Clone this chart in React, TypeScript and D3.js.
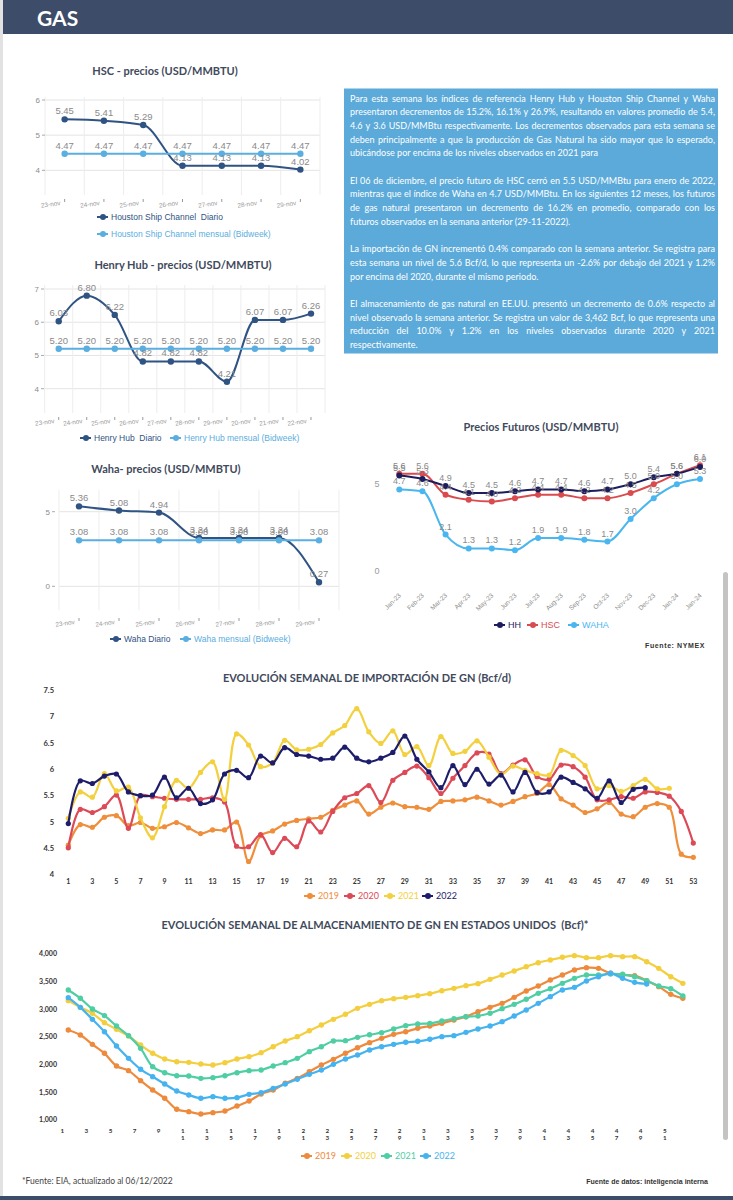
import React from 'react';
import * as d3 from 'd3';

const LATO = 'Lato, "Open Sans", sans-serif';
const SANS = '"Liberation Sans", Arial, sans-serif';
const NAVY = '#3c4c69';

// ---------- Daily price charts ----------
const hscDays = ['23-nov', '24-nov', '25-nov', '26-nov', '27-nov', '28-nov', '29-nov'];
const hscDiario = [5.45, 5.41, 5.29, 4.13, 4.13, 4.13, 4.02];
const hscMensual = [4.47, 4.47, 4.47, 4.47, 4.47, 4.47, 4.47];
const hscTicks = [4, 5, 6];

const hhDays = ['23-nov', '24-nov', '25-nov', '26-nov', '27-nov', '28-nov', '29-nov', '20-nov', '21-nov', '22-nov'];
const hhDiario = [6.03, 6.8, 6.22, 4.82, 4.82, 4.82, 4.21, 6.07, 6.07, 6.26];
const hhMensual = [5.2, 5.2, 5.2, 5.2, 5.2, 5.2, 5.2, 5.2, 5.2, 5.2];
const hhTicks = [4, 5, 6, 7];

const wahaDays = ['23-nov', '24-nov', '25-nov', '26-nov', '27-nov', '28-nov', '29-nov'];
const wahaDiario = [5.36, 5.08, 4.94, 3.24, 3.24, 3.24, 0.27];
const wahaMensual = [3.08, 3.08, 3.08, 3.08, 3.08, 3.08, 3.08];
const wahaTicks = [0, 5];

// ---------- Futures ----------
const futMonths = ['Jan-23', 'Feb-23', 'Mar-23', 'Apr-23', 'May-23', 'Jun-23', 'Jul-23', 'Aug-23', 'Sep-23', 'Oct-23', 'Nov-23', 'Dec-23', 'Jan-24', 'Jan-24'];
const futHH = [5.5, 5.3, 4.9, 4.5, 4.5, 4.6, 4.7, 4.7, 4.6, 4.7, 5.0, 5.4, 5.6, 6.0];
const futHSC = [5.6, 5.6, 4.4, 4.1, 4.0, 4.2, 4.4, 4.4, 4.2, 4.2, 4.5, 5.0, 5.6, 6.1];
const futWAHA = [4.7, 4.6, 2.1, 1.3, 1.3, 1.2, 1.9, 1.9, 1.8, 1.7, 3.0, 4.2, 5.0, 5.3];
const futTicks = [0, 5];

// ---------- Imports (Bcf/d) ----------
const imp2019 = [4.56, 4.95, 4.9, 5.09, 5.12, 4.93, 4.99, 4.88, 4.91, 4.99, 4.89, 4.78, 4.85, 4.85, 5.0, 4.25, 4.74, 4.83, 4.96, 5.03, 5.06, 5.09, 5.22, 5.32, 5.4, 5.15, 5.28, 5.36, 5.29, 5.28, 5.24, 5.39, 5.4, 5.42, 5.47, 5.4, 5.32, 5.39, 5.48, 5.54, 5.71, 5.44, 5.32, 5.18, 5.25, 5.37, 5.15, 5.1, 5.28, 5.35, 5.28, 4.39, 4.33];
const imp2020 = [4.51, 5.24, 5.18, 5.29, 5.51, 4.88, 5.5, 5.48, 5.45, 5.43, 5.43, 5.43, 5.46, 5.38, 4.54, 4.53, 4.76, 4.42, 4.69, 4.53, 5.02, 4.81, 5.2, 5.46, 5.54, 5.69, 5.37, 5.79, 5.94, 6.06, 5.84, 5.54, 5.83, 6.07, 6.31, 6.29, 5.92, 6.08, 6.18, 5.86, 5.81, 6.08, 6.05, 5.85, 5.42, 5.42, 5.48, 5.45, 5.57, 5.56, 5.49, 5.2, 4.6];
const imp2021 = [5.07, 5.57, 5.47, 5.92, 5.59, 5.66, 5.08, 4.7, 5.29, 5.79, 5.64, 5.94, 6.14, 5.43, 6.67, 6.46, 6.05, 6.12, 6.55, 6.37, 6.38, 6.47, 6.69, 6.83, 7.15, 6.71, 6.49, 6.73, 6.28, 6.43, 6.07, 6.62, 6.3, 6.34, 6.54, 6.23, 5.9, 6.06, 5.98, 5.92, 5.89, 6.36, 6.26, 6.07, 5.63, 5.69, 5.58, 5.69, 5.81, 5.63, 5.64];
const imp2022 = [4.97, 5.78, 5.73, 5.87, 5.91, 5.57, 5.5, 5.51, 5.85, 5.46, 5.64, 5.35, 5.42, 5.91, 5.98, 5.84, 6.25, 6.12, 6.41, 6.28, 6.25, 6.19, 6.21, 6.42, 6.21, 6.14, 6.21, 6.32, 6.63, 6.19, 5.95, 5.65, 6.07, 5.71, 6.0, 5.72, 5.89, 5.57, 5.94, 5.56, 5.57, 5.85, 5.75, 5.63, 5.45, 5.78, 5.37, 5.62, 5.65];
const impTicks = [4, 4.5, 5, 5.5, 6, 6.5, 7, 7.5];

// ---------- Storage (Bcf) ----------
const st2019 = [2627, 2536, 2367, 2205, 1976, 1892, 1711, 1542, 1392, 1193, 1151, 1108, 1133, 1163, 1253, 1343, 1470, 1542, 1663, 1753, 1873, 1994, 2096, 2205, 2307, 2398, 2476, 2548, 2596, 2657, 2699, 2747, 2807, 2867, 2958, 3036, 3108, 3217, 3331, 3422, 3530, 3620, 3711, 3753, 3741, 3651, 3620, 3608, 3518, 3410, 3271, 3199];
const st2020 = [3157, 3036, 2928, 2759, 2639, 2518, 2355, 2205, 2102, 2054, 2042, 2012, 1994, 2036, 2102, 2145, 2217, 2325, 2428, 2506, 2614, 2717, 2819, 2910, 3018, 3090, 3157, 3193, 3217, 3247, 3283, 3337, 3379, 3428, 3464, 3542, 3620, 3693, 3771, 3843, 3892, 3940, 3970, 3934, 3934, 3970, 3952, 3952, 3861, 3741, 3590, 3470];
const st2021 = [3349, 3199, 3006, 2886, 2699, 2524, 2295, 1964, 1855, 1801, 1795, 1753, 1765, 1801, 1855, 1892, 1904, 1976, 2036, 2114, 2235, 2325, 2428, 2434, 2494, 2540, 2578, 2644, 2705, 2735, 2747, 2789, 2831, 2867, 2880, 2928, 3012, 3090, 3181, 3289, 3373, 3470, 3560, 3620, 3620, 3639, 3633, 3590, 3518, 3422, 3373, 3241];
const st2022 = [3211, 3036, 2819, 2596, 2337, 2114, 1916, 1783, 1651, 1524, 1452, 1392, 1422, 1392, 1404, 1464, 1494, 1572, 1651, 1735, 1825, 1904, 2006, 2102, 2175, 2265, 2325, 2367, 2404, 2422, 2458, 2506, 2524, 2584, 2645, 2699, 2777, 2880, 2988, 3108, 3229, 3349, 3397, 3512, 3590, 3651, 3560, 3488, 3458];
const stTicks = [1000, 1500, 2000, 2500, 3000, 3500, 4000];

// ---------- Text ----------
const paragraphs: string[][] = [
  [
    'Para esta semana los índices de referencia Henry Hub y Houston Ship Channel y Waha',
    'presentaron decrementos de 15.2%, 16.1% y 26.9%,  resultando en valores promedio de 5.4,',
    '4.6 y 3.6 USD/MMBtu respectivamente. Los decrementos observados para esta semana se',
    'deben principalmente a que la producción de Gas Natural ha sido mayor que lo esperado,',
    'ubicándose por encima de los niveles observados en 2021 para',
  ],
  [
    'El 06 de diciembre, el precio futuro de HSC cerró en 5.5 USD/MMBtu para enero de 2022,',
    'mientras que el índice de Waha en 4.7 USD/MMBtu. En los siguientes 12 meses, los futuros',
    'de gas natural presentaron un decremento de 16.2% en promedio, comparado con los',
    'futuros observados en la semana anterior (29-11-2022).',
  ],
  [
    'La importación de GN incrementó 0.4% comparado con la semana anterior. Se registra para',
    'esta semana un nivel de 5.6 Bcf/d, lo que representa un -2.6% por debajo del 2021 y 1.2%',
    'por encima del 2020, durante el mismo periodo.',
  ],
  [
    'El almacenamiento de gas natural en EE.UU. presentó un decremento de 0.6% respecto al',
    'nivel observado la semana anterior. Se registra un valor de 3,462 Bcf, lo que representa una',
    'reducción del 10.0% y 1.2% en los niveles observados durante 2020 y 2021',
    'respectivamente.',
  ],
];

const C_DIARIO = '#2f5383';
const C_MENSUAL = '#5aaee0';

let measureCtx: CanvasRenderingContext2D | null = null;
function textWidth(s: string, font: string) {
  if (typeof document === 'undefined') return s.length * 4.5;
  if (!measureCtx) measureCtx = document.createElement('canvas').getContext('2d');
  if (!measureCtx) return s.length * 4.5;
  measureCtx.font = font;
  return measureCtx.measureText(s).width;
}

function LegendItem({ x, y, color, label, size = 8.5, font = SANS, r = 3 }: any) {
  return (
    <g>
      <line x1={x - 6} x2={x + 5} y1={y} y2={y} stroke={color} strokeWidth={2} />
      <circle cx={x} cy={y} r={r} fill={color} />
      <text x={x + 8} y={y} dy="0.35em" fontSize={size} fontFamily={font} fill={color} style={{ whiteSpace: 'pre' }}>{label}</text>
    </g>
  );
}

type PCProps = {
  title: string; titleX: number; titleY: number;
  cats: string[]; diario: number[]; mensual: number[];
  xRange: [number, number]; yDomain: [number, number]; yRange: [number, number];
  yTicks: number[]; plotTop: number; plotBottom: number; yLabelX: number; xLabelY: number;
  legend: { x: number; y: number; label: string; color: string }[];
};

function PriceChart(p: PCProps) {
  const keys = p.cats.map((c, i) => i + c);
  const x = d3.scaleBand<string>().domain(keys).range(p.xRange);
  const cx = (i: number) => (x(keys[i]) as number) + x.bandwidth() / 2;
  const y = d3.scaleLinear().domain(p.yDomain).range(p.yRange);
  const line = d3.line<number>().x((_, i) => cx(i)).y((v) => y(v)).curve(d3.curveMonotoneX);
  const bounds = keys.map((k) => x(k) as number).concat([p.xRange[1]]);
  return (
    <g>
      <text x={p.titleX} y={p.titleY} textAnchor="middle" fontFamily={LATO} fontWeight={700} fontSize={11} fill="#3f4a5c">{p.title}</text>
      {p.yTicks.map((t) => (
        <line key={'h' + t} x1={p.xRange[0]} x2={p.xRange[1]} y1={y(t)} y2={y(t)} stroke="#e4e4e4" />
      ))}
      {bounds.map((b, i) => (
        <line key={'v' + i} x1={b} x2={b} y1={p.plotTop} y2={p.plotBottom} stroke="#ededed" />
      ))}
      {p.yTicks.map((t) => (
        <g key={'yl' + t}>
          <text x={p.yLabelX} y={y(t)} dy="0.35em" textAnchor="end" fontSize={8} fill="#8c8c8c" fontFamily={SANS}>{t}</text>
          <line x1={p.yLabelX + 2} x2={p.yLabelX + 5} y1={y(t)} y2={y(t)} stroke="#aaa" />
        </g>
      ))}
      {p.cats.map((c, i) => (
        <g key={'xl' + i}>
          <text transform={`translate(${cx(i) - 4},${p.xLabelY}) rotate(-8)`} textAnchor="end" fontSize={6.4} fill="#9a9a9a" fontFamily={SANS}>{c}</text>
          <line x1={cx(i)} x2={cx(i)} y1={p.xLabelY - 6} y2={p.xLabelY - 3} stroke="#999" />
        </g>
      ))}
      <path d={line(p.diario) || ''} fill="none" stroke={C_DIARIO} strokeWidth={2} />
      <path d={line(p.mensual) || ''} fill="none" stroke={C_MENSUAL} strokeWidth={2} />
      {p.diario.map((v, i) => <circle key={'dc' + i} cx={cx(i)} cy={y(v)} r={3.2} fill={C_DIARIO} />)}
      {p.mensual.map((v, i) => <circle key={'mc' + i} cx={cx(i)} cy={y(v)} r={3.2} fill={C_MENSUAL} />)}
      {p.mensual.map((v, i) => (
        <text key={'ml' + i} x={cx(i)} y={y(v) - 5} textAnchor="middle" fontSize={9.5} fill="#8a8a8a" fontFamily={SANS}>{v.toFixed(2)}</text>
      ))}
      {p.diario.map((v, i) => (
        <text key={'dl' + i} x={cx(i)} y={y(v) - 5} textAnchor="middle" fontSize={9.5} fill="#8a8a8a" fontFamily={SANS}>{v.toFixed(2)}</text>
      ))}
      {p.legend.map((l, i) => <LegendItem key={'lg' + i} x={l.x} y={l.y} color={l.color} label={l.label} />)}
    </g>
  );
}

function FuturesChart() {
  const x = d3.scalePoint<number>().domain(futMonths.map((_, i) => i)).range([399.3, 700]);
  const y = d3.scaleLinear().domain([0, 5]).range([571, 484.25]);
  const line = d3.line<number>().x((_, i) => x(i) as number).y((v) => y(v)).curve(d3.curveMonotoneX);
  const series = [
    { data: futWAHA, color: '#4ab6ef' },
    { data: futHSC, color: '#d94b4e' },
    { data: futHH, color: '#1c1d5c' },
  ];
  return (
    <g>
      <text x={541} y={431} textAnchor="middle" fontFamily={LATO} fontWeight={700} fontSize={11} fill="#3f4a5c">Precios Futuros (USD/MMBTU)</text>
      {futTicks.map((t) => (
        <text key={t} x={377} y={y(t)} dy="0.35em" textAnchor="middle" fontSize={9} fill="#9a9a9a" fontFamily={SANS}>{t}</text>
      ))}
      {futMonths.map((m, i) => (
        <text key={'m' + i} transform={`translate(${(x(i) as number) + 2},${596}) rotate(-45)`} textAnchor="end" fontSize={6.5} fill="#8a8a8a" fontFamily={SANS}>{m}</text>
      ))}
      {series.map((s, k) => (
        <g key={'s' + k}>
          <path d={line(s.data) || ''} fill="none" stroke={s.color} strokeWidth={2} />
          {s.data.map((v, i) => <circle key={i} cx={x(i) as number} cy={y(v)} r={3} fill={s.color} />)}
        </g>
      ))}
      {series.map((s, k) => (
        <g key={'l' + k}>
          {s.data.map((v, i) => (
            <text key={i} x={x(i) as number} y={y(v) - 5} textAnchor="middle" fontSize={9} fill="#8a8a8a" fontFamily={SANS}>{v.toFixed(1)}</text>
          ))}
        </g>
      ))}
      <LegendItem x={500} y={625} color="#1c1d5c" label="HH" size={9} />
      <LegendItem x={533} y={625} color="#d94b4e" label="HSC" size={9} />
      <LegendItem x={574} y={625} color="#4ab6ef" label="WAHA" size={9} />
      <text x={705} y={648} textAnchor="end" fontSize={7} fontWeight={700} fill="#333" fontFamily={SANS} letterSpacing={0.6}>Fuente: NYMEX</text>
    </g>
  );
}

function ImportChart() {
  const x = d3.scaleLinear().domain([1, 53]).range([68.3, 693.3]);
  const y = d3.scaleLinear().domain([4, 7.5]).range([874.7, 690.2]);
  const line = d3.line<number>().x((_, i) => x(i + 1)).y((v) => y(v)).curve(d3.curveCatmullRom.alpha(0.5));
  const series = [
    { data: imp2019, color: '#ef8e3b', name: '2019' },
    { data: imp2020, color: '#dc4a58', name: '2020' },
    { data: imp2021, color: '#f3d03e', name: '2021' },
    { data: imp2022, color: '#1d1d6b', name: '2022' },
  ];
  const weeks = d3.range(1, 54, 2);
  const lx = [310, 350, 390, 428];
  return (
    <g>
      <text x={367} y={682} textAnchor="middle" fontFamily={LATO} fontWeight={700} fontSize={11} fill="#3f4a5c">EVOLUCIÓN SEMANAL DE IMPORTACIÓN DE GN (Bcf/d)</text>
      {impTicks.map((t) => (
        <text key={t} x={54} y={y(t)} dy="0.35em" textAnchor="end" fontSize={7.5} fontWeight={700} fill="#333" fontFamily={LATO}>{t}</text>
      ))}
      {weeks.map((w) => (
        <text key={w} x={x(w)} y={884} textAnchor="middle" fontSize={7} fontWeight={700} fill="#333" fontFamily={LATO}>{w}</text>
      ))}
      {series.map((s) => (
        <g key={s.name}>
          <path d={line(s.data) || ''} fill="none" stroke={s.color} strokeWidth={2.2} />
          {s.data.map((v, i) => <circle key={i} cx={x(i + 1)} cy={y(v)} r={2.6} fill={s.color} />)}
        </g>
      ))}
      {series.map((s, i) => <LegendItem key={'l' + s.name} x={lx[i]} y={896} color={s.color} label={s.name} size={9} font={LATO} />)}
    </g>
  );
}

function StorageChart() {
  const x = d3.scaleLinear().domain([1, 52]).range([68.3, 682.85]);
  const y = d3.scaleLinear().domain([1000, 4000]).range([1120, 954]);
  const line = d3.line<number>().x((_, i) => x(i + 1)).y((v) => y(v)).curve(d3.curveCatmullRom.alpha(0.5));
  const series = [
    { data: st2019, color: '#ee8a3c', name: '2019' },
    { data: st2020, color: '#f3cf3f', name: '2020' },
    { data: st2021, color: '#4fcea4', name: '2021' },
    { data: st2022, color: '#45b3ef', name: '2022' },
  ];
  const weeks = d3.range(1, 52, 2);
  const lx = [307, 347, 387, 426];
  return (
    <g>
      <text x={375} y={929} textAnchor="middle" fontFamily={LATO} fontWeight={700} fontSize={11} fill="#3f4a5c" style={{ whiteSpace: 'pre' }}>EVOLUCIÓN SEMANAL DE ALMACENAMIENTO DE GN EN ESTADOS UNIDOS  (Bcf)*</text>
      {stTicks.map((t) => (
        <text key={t} x={57} y={y(t)} dy="0.35em" textAnchor="end" fontSize={7} fontWeight={700} fill="#333" fontFamily={LATO}>{d3.format(',')(t)}</text>
      ))}
      {weeks.map((w) => {
        const s = String(w);
        return (
          <g key={w}>
            {s.split('').map((ch, k) => (
              <text key={k} x={x(w) - 6} y={1132.5 + k * 7} textAnchor="middle" fontSize={6.3} fontWeight={700} fill="#333" fontFamily={LATO}>{ch}</text>
            ))}
          </g>
        );
      })}
      {series.map((s) => (
        <g key={s.name}>
          <path d={line(s.data) || ''} fill="none" stroke={s.color} strokeWidth={2.2} />
          {s.data.map((v, i) => <circle key={i} cx={x(i + 1)} cy={y(v)} r={2.7} fill={s.color} />)}
        </g>
      ))}
      {series.map((s, i) => <LegendItem key={'l' + s.name} x={lx[i]} y={1156} color={s.color} label={s.name} size={9} font={LATO} />)}
    </g>
  );
}

function TextBox() {
  const lh = 13.7;
  const fs = 9;
  const left = 350;
  const width = 365;
  const font = `${fs}px Lato`;
  let yy = 101.5;
  const rows: any[] = [];
  paragraphs.forEach((para, pi) => {
    para.forEach((ln, li) => {
      const last = li === para.length - 1;
      if (last) {
        rows.push(<text key={pi + '-' + li} x={left} y={yy} fontSize={fs} fontFamily={LATO} fill="#ffffff">{ln}</text>);
      } else {
        const words = ln.split(/\s+/).filter((w) => w.length > 0);
        const ws = words.map((w) => textWidth(w, font));
        const total = ws.reduce((a, b) => a + b, 0);
        const gap = (width - total) / (words.length - 1);
        let cx = left;
        const spans = words.map((w, k) => {
          const xx = cx;
          cx += ws[k] + gap;
          return <tspan key={k} x={xx}>{w}</tspan>;
        });
        rows.push(<text key={pi + '-' + li} y={yy} fontSize={fs} fontFamily={LATO} fill="#ffffff">{spans}</text>);
      }
      yy += lh;
    });
    yy += lh;
  });
  return (
    <g>
      <rect x={344} y={88.5} width={374} height={265} fill="#5caad9" />
      {rows}
    </g>
  );
}

export default function App() {
  return (
    <svg width={733} height={1200} viewBox="0 0 733 1200" style={{ position: 'absolute', left: 0, top: 0, display: 'block' }}>
      <rect x={0} y={0} width={733} height={1200} fill="#ffffff" />
      <rect x={0} y={0} width={3} height={1200} fill="#e2e2e2" />
      <rect x={3} y={0} width={730} height={34} fill={NAVY} />
      <text x={37} y={26} fontFamily={LATO} fontWeight={700} fontSize={21} fill="#ffffff">GAS</text>
      <rect x={723} y={572} width={5} height={568} rx={2.5} fill="#c4c4c4" />

      <PriceChart title="HSC - precios (USD/MMBTU)" titleX={165} titleY={75}
        cats={hscDays} diario={hscDiario} mensual={hscMensual}
        xRange={[45, 320]} yDomain={[4, 6]} yRange={[170.3, 100]} yTicks={hscTicks}
        plotTop={97} plotBottom={195} yLabelX={40} xLabelY={205}
        legend={[
          { x: 103, y: 217, label: 'Houston Ship Channel  Diario', color: C_DIARIO },
          { x: 103, y: 234, label: 'Houston Ship Channel mensual (Bidweek)', color: C_MENSUAL },
        ]} />

      <PriceChart title="Henry Hub - precios (USD/MMBTU)" titleX={183} titleY={269}
        cats={hhDays} diario={hhDiario} mensual={hhMensual}
        xRange={[44.7, 325]} yDomain={[4, 7]} yRange={[388.7, 289]} yTicks={hhTicks}
        plotTop={285} plotBottom={413} yLabelX={39} xLabelY={423}
        legend={[
          { x: 86, y: 438, label: 'Henry Hub  Diario', color: C_DIARIO },
          { x: 176, y: 438, label: 'Henry Hub mensual (Bidweek)', color: C_MENSUAL },
        ]} />

      <PriceChart title="Waha- precios (USD/MMBTU)" titleX={166} titleY={473}
        cats={wahaDays} diario={wahaDiario} mensual={wahaMensual}
        xRange={[59, 339]} yDomain={[0, 5]} yRange={[586.3, 511.7]} yTicks={wahaTicks}
        plotTop={490} plotBottom={610} yLabelX={50} xLabelY={624}
        legend={[
          { x: 116, y: 639, label: 'Waha Diario', color: C_DIARIO },
          { x: 186, y: 639, label: 'Waha mensual (Bidweek)', color: C_MENSUAL },
        ]} />

      <TextBox />
      <FuturesChart />
      <ImportChart />
      <StorageChart />

      <text x={22} y={1184} fontFamily={LATO} fontSize={8.5} fill="#444">*Fuente: EIA, actualizado al 06/12/2022</text>
      <text x={708} y={1184} textAnchor="end" fontFamily={SANS} fontSize={7} fontWeight={700} fill="#333">Fuente de datos: inteligencia interna</text>
      <rect x={0} y={1196} width={733} height={4} fill={NAVY} />
    </svg>
  );
}
